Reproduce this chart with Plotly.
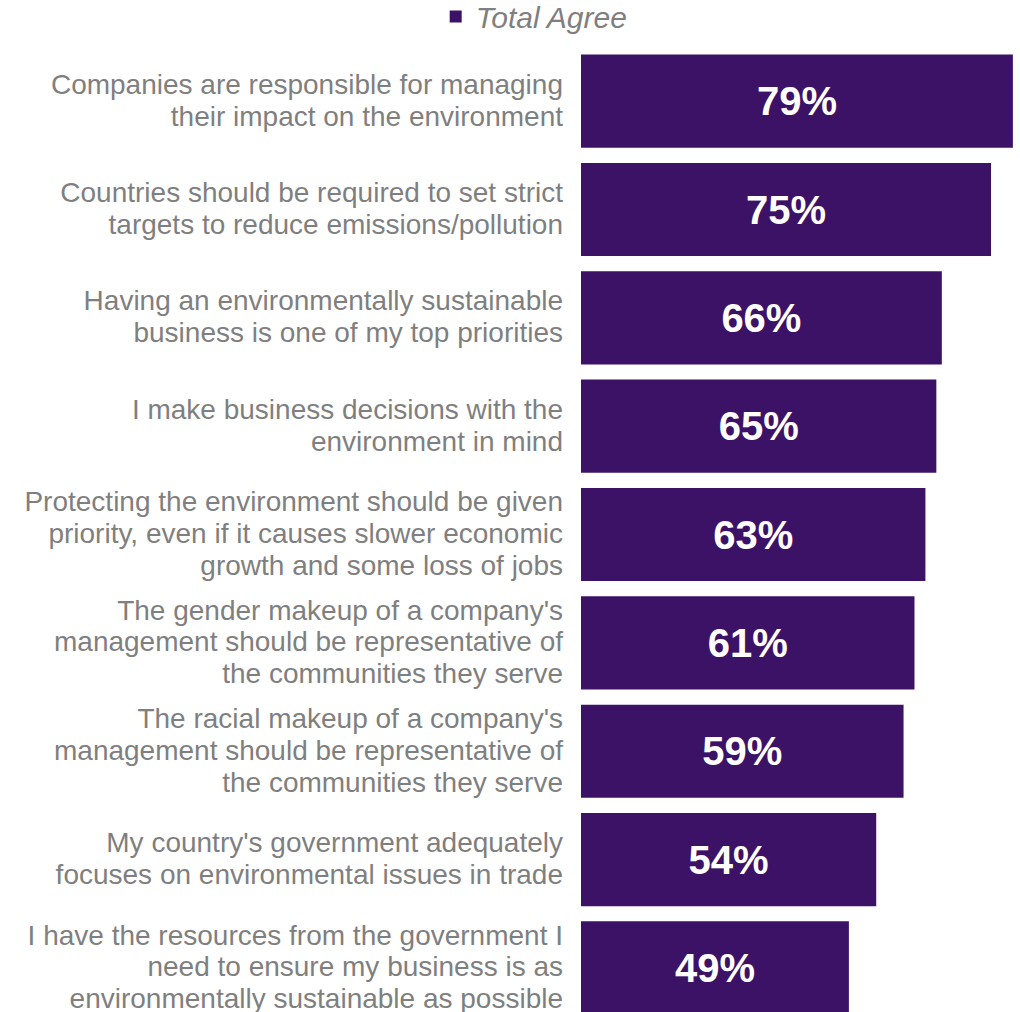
import plotly.graph_objects as go

# Survey statements (top to bottom) and share who agree
statements = [
    "Companies are responsible for managing\ntheir impact on the environment",
    "Countries should be required to set strict\ntargets to reduce emissions/pollution",
    "Having an environmentally sustainable\nbusiness is one of my top priorities",
    "I make business decisions with the\nenvironment in mind",
    "Protecting the environment should be given\npriority, even if it causes slower economic\ngrowth and some loss of jobs",
    "The gender makeup of a company's\nmanagement should be representative of\nthe communities they serve",
    "The racial makeup of a company's\nmanagement should be representative of\nthe communities they serve",
    "My country's government adequately\nfocuses on environmental issues in trade",
    "I have the resources from the government I\nneed to ensure my business is as\nenvironmentally sustainable as possible",
]
total_agree = [79, 75, 66, 65, 63, 61, 59, 54, 49]
series_name = "Total Agree"

PURPLE = "#3c1266"
GRAY = "#7f7f7f"
FONT = "Liberation Sans, Arial, sans-serif"

# Category text: lines at 28px set on a tighter (24.6px based) line pitch
LABEL_PX = 28
def wrap_label(s):
    return "<br>".join(
        f'<span style="font-size:{LABEL_PX}px">{line}</span>' for line in s.split("\n")
    )

positions = list(range(len(statements)))

fig = go.Figure(
    go.Bar(
        x=total_agree,
        y=positions,
        orientation="h",
        name=series_name,
        marker=dict(color=PURPLE, line=dict(width=0)),
        width=0.86,
        text=[f"{v}%" for v in total_agree],
        textposition="inside",
        insidetextanchor="middle",
        textangle=0,
        textfont=dict(family=FONT, size=40, color="white", weight="bold"),
        cliponaxis=False,
    )
)

fig.update_layout(
    width=1020,
    height=1012,
    margin=dict(l=581, r=0, t=47, b=0, pad=0, autoexpand=False),
    paper_bgcolor="white",
    plot_bgcolor="white",
    font=dict(family=FONT, color=GRAY),
    uniformtext=dict(mode=False),
    showlegend=True,
    legend=dict(
        orientation="h",
        x=-0.331,
        xanchor="left",
        y=1.0585,
        yanchor="top",
        yref="paper",
        font=dict(family=FONT, size=30, color=GRAY, style="italic"),
        itemwidth=30,
        bgcolor="rgba(0,0,0,0)",
    ),
    xaxis=dict(
        range=[0, 80.3],
        visible=False,
        showgrid=False,
        zeroline=False,
    ),
    yaxis=dict(
        range=[8.407, -0.5],
        tickmode="array",
        tickvals=positions,
        ticktext=[wrap_label(s) for s in statements],
        tickfont=dict(family=FONT, size=24.6, color=GRAY),
        ticklabelstandoff=17,
        ticklabeloverflow="allow",
        showgrid=False,
        zeroline=False,
        showline=False,
        ticks="",
    ),
)

fig.write_html("out.html")
